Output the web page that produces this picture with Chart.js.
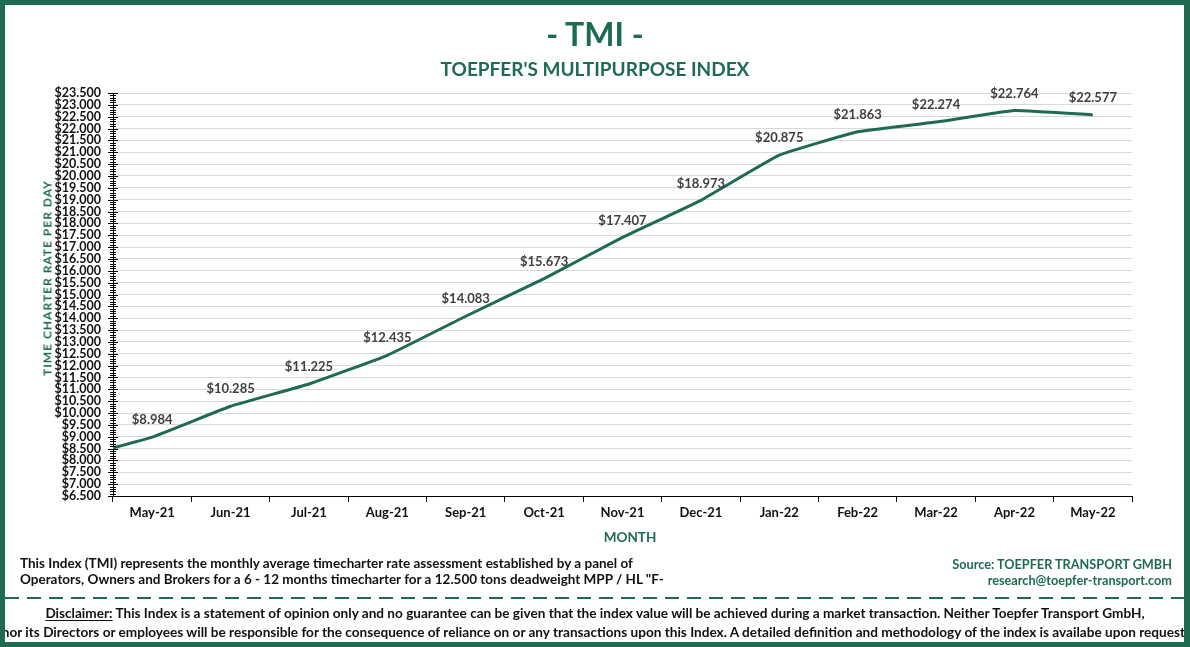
<!DOCTYPE html>
<html>
<head>
<meta charset="utf-8">
<script src="https://cdn.jsdelivr.net/npm/chart.js@4.4.1/dist/chart.umd.min.js"></script>
<style>
  html, body { margin: 0; padding: 0; background: #fff; }
  body { width: 1190px; height: 647px; position: relative; overflow: hidden; font-family: Lato, "Noto Sans", sans-serif; }
  #chart { position: absolute; left: 0; top: 0; }
  .frame { position: absolute; left: 0; top: 0; width: 1190px; height: 647px; box-sizing: border-box; border: 5px solid #1d6b51; border-right-width: 6px; pointer-events: none; }
  .txt { position: absolute; white-space: nowrap; font-weight: bold; }
  .green { color: #1d6b51; }
  #title { left: 0; width: 1190px; text-align: center; top: 14px; font-size: 32px; line-height: 40px; }
  #subtitle { left: 0; width: 1190px; text-align: center; top: 58px; font-size: 19px; line-height: 22px; }
  #ytitle { left: 47px; top: 278px; font-size: 12px; letter-spacing: 1px; transform: translate(-50%, -50%) rotate(-90deg); }
  #xtitle { left: 630px; top: 537px; font-size: 13.5px; transform: translate(-50%, -50%); }
  .foot { left: 20px; font-size: 13.5px; color: #111; }
  .src { right: 18px; font-size: 12.7px; text-align: right; }
  .dash { position: absolute; left: 5px; right: 5px; top: 597px; height: 2px;
          background: repeating-linear-gradient(90deg, #1d6b51 0 14px, transparent 14px 22px); }
  .disc { left: -200px; width: 1590px; text-align: center; font-size: 13.6px; color: #111; }
  .disc u { text-underline-offset: 2px; }
</style>
</head>
<body>
<canvas id="chart" width="1190" height="647"></canvas>
<div class="txt green" id="title">- TMI -</div>
<div class="txt green" id="subtitle">TOEPFER'S MULTIPURPOSE INDEX</div>
<div class="txt green" id="ytitle">TIME CHARTER RATE PER DAY</div>
<div class="txt green" id="xtitle">MONTH</div>
<div class="txt foot" style="top:555px">This Index (TMI) represents the monthly average timecharter rate assessment established by a panel of</div>
<div class="txt foot" style="top:571px">Operators, Owners and Brokers for a 6 - 12 months timecharter for a 12.500 tons deadweight MPP / HL "F-</div>
<div class="txt green src" style="top:556px">Source: TOEPFER TRANSPORT GMBH</div>
<div class="txt green src" style="top:572px">research@toepfer-transport.com</div>
<div class="dash"></div>
<div class="txt disc" style="top:605px"><u>Disclaimer:</u> This Index is a statement of opinion only and no guarantee can be given that the index value will be achieved during a market transaction. Neither Toepfer Transport GmbH,</div>
<div class="txt disc" style="top:624px">nor its Directors or employees will be responsible for the consequence of reliance on or any transactions upon this Index. A detailed definition and methodology of the index is availabe upon request.</div>
<div class="frame"></div>
<script>
// data
const months = ["May-21", "Jun-21", "Jul-21", "Aug-21", "Sep-21", "Oct-21", "Nov-21", "Dec-21", "Jan-22", "Feb-22", "Mar-22", "Apr-22", "May-22"];
const tmiValues = [8984, 10285, 11225, 12435, 14083, 15673, 17407, 18973, 20875, 21863, 22274, 22764, 22577];
// previous month (Apr-21), only its clipped segment shows at the left edge
const priorValue = 8095;

const yMin = 6500;
const yMax = 23500;
const yStep = 500;
const yMinorStep = 100;

function money(v) {
  return "$" + v.toLocaleString("de-DE");
}

const points = [{ x: 0, y: priorValue }].concat(tmiValues.map((v, i) => ({ x: i + 1, y: v })));

const valueLabels = {
  id: "valueLabels",
  afterDatasetsDraw(chart) {
    const ctx = chart.ctx;
    const meta = chart.getDatasetMeta(0);
    ctx.save();
    ctx.font = "bold 13px Lato, sans-serif";
    ctx.fillStyle = "#404040";
    ctx.textAlign = "center";
    ctx.textBaseline = "middle";
    meta.data.forEach((pt, i) => {
      if (i === 0) return;
      ctx.fillText(money(tmiValues[i - 1]), pt.x, pt.y - 17);
    });
    ctx.restore();
  }
};

const yTickMarks = {
  id: "yTickMarks",
  afterDraw(chart) {
    const ctx = chart.ctx;
    const y = chart.scales.y;
    const x0 = chart.chartArea.left;
    ctx.save();
    ctx.strokeStyle = "#000";
    ctx.lineWidth = 1;
    ctx.beginPath();
    for (let v = yMin; v <= yMax; v += yMinorStep) {
      const py = Math.round(y.getPixelForValue(v)) + 0.5;
      const major = (v - yMin) % yStep === 0;
      ctx.moveTo(x0 - (major ? 5 : 3), py);
      ctx.lineTo(x0 + (major ? 5 : 3), py);
    }
    ctx.stroke();
    ctx.restore();
  }
};

new Chart(document.getElementById("chart"), {
  type: "line",
  data: {
    datasets: [{
      data: points,
      borderColor: "#1f6b50",
      borderWidth: 3,
      pointRadius: 0,
      tension: 0.1,
      fill: false
    }]
  },
  options: {
    responsive: false,
    animation: false,
    layout: { padding: { left: 0, right: 58, top: 93, bottom: 0 } },
    plugins: { legend: { display: false }, tooltip: { enabled: false } },
    scales: {
      x: {
        type: "linear",
        min: 0.5,
        max: 13.5,
        afterBuildTicks: (s) => { s.ticks = months.map((m, i) => ({ value: i + 1 })); },
        afterFit: (s) => { s.height = 151; },
        grid: { offset: true, drawOnChartArea: false, drawTicks: true, tickLength: 6, color: "#000" },
        border: { color: "#000", width: 1 },
        ticks: {
          autoSkip: false,
          maxRotation: 0,
          padding: 3,
          color: "#111",
          font: { family: "Lato", weight: "bold", size: 13 },
          callback: (v) => months[v - 1]
        }
      },
      y: {
        min: yMin,
        max: yMax,
        afterFit: (s) => { s.width = 113; },
        grid: { color: "#d9d9d9", drawTicks: false },
        border: { color: "#000", width: 1 },
        ticks: {
          stepSize: yStep,
          autoSkip: false,
          padding: 12,
          color: "#111",
          font: { family: "Lato", weight: "bold", size: 12.5, lineHeight: 1 },
          callback: (v) => money(v)
        }
      }
    }
  },
  plugins: [valueLabels, yTickMarks]
});
</script>
</body>
</html>
